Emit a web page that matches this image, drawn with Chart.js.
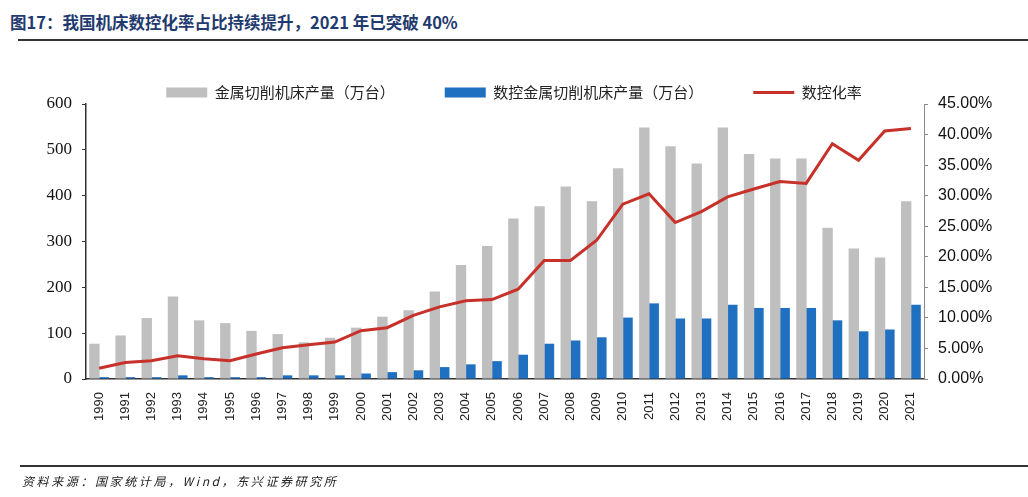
<!DOCTYPE html>
<html>
<head>
<meta charset="utf-8">
<script src="https://cdn.jsdelivr.net/npm/chart.js@4"></script>
<style>
  body { margin: 0; width: 1028px; height: 497px; background: #fff; position: relative; overflow: hidden; font-family: "Noto Sans CJK SC", sans-serif; }
  #title { position: absolute; left: 10px; top: 10px; font-size: 16.5px; font-weight: bold; color: #1f3a6e; white-space: nowrap; }
  #rule1 { position: absolute; left: 18px; right: 0; top: 39px; height: 2px; background: #333; }
  #rule2 { position: absolute; left: 20px; right: 0; top: 465px; height: 2px; background: #333; }
  #src { position: absolute; left: 22px; top: 472px; font-size: 12px; font-style: italic; letter-spacing: 2.6px; color: #222; white-space: nowrap; }
  #box { position: absolute; left: 0; top: 0; width: 1028px; height: 497px; }
</style>
</head>
<body>
<div id="title">图17：我国机床数控化率占比持续提升，2021 年已突破 40%</div>
<div id="rule1"></div>
<div id="box"><canvas id="cncChart"></canvas></div>
<div id="rule2"></div>
<div id="src">资料来源：国家统计局，Wind，东兴证券研究所</div>
<script>
const years = ["1990", "1991", "1992", "1993", "1994", "1995", "1996", "1997", "1998", "1999",
  "2000", "2001", "2002", "2003", "2004", "2005", "2006", "2007", "2008", "2009",
  "2010", "2011", "2012", "2013", "2014", "2015", "2016", "2017", "2018", "2019", "2020", "2021"];
// 金属切削机床产量（万台）
const production = [77, 95, 133, 180, 128, 122, 105, 98, 80, 90, 112, 136, 150, 191, 249, 290,
  350, 377, 420, 388, 460, 549, 508, 470, 549, 491, 481, 481, 330, 285, 265, 388];
// 数控金属切削机床产量（万台）
const cncProduction = [4, 4, 4, 8, 4, 4, 4, 8, 8, 8, 12, 15, 19, 26, 32, 39,
  53, 77, 84, 91, 134, 165, 132, 132, 162, 155, 155, 155, 128, 104, 108, 162];
// 数控化率 (%)
const cncRate = [1.75, 2.7, 3.0, 3.8, 3.3, 3.0, 4.1, 5.1, 5.6, 6.05, 7.9, 8.4, 10.4, 11.8, 12.8, 13.0,
  14.7, 19.4, 19.4, 22.7, 28.6, 30.3, 25.6, 27.4, 29.8, 31.1, 32.3, 32.0, 38.5, 35.8, 40.6, 41.0];

const legendHeight = {
  id: "legendHeight",
  beforeInit(chart) {
    const fit = chart.legend.fit;
    chart.legend.fit = function () {
      fit.bind(chart.legend)();
      this.height = 69;
    };
  }
};

const ctx = document.getElementById("cncChart").getContext("2d");
const cncChart = new Chart(ctx, {
  type: "bar",
  data: {
    labels: years,
    datasets: [
      {
        label: "金属切削机床产量（万台）",
        data: production,
        backgroundColor: "#bfbfbf",
        borderWidth: 0,
        pointStyle: "rect",
        yAxisID: "y",
        order: 1,
      },
      {
        label: "数控金属切削机床产量（万台）",
        data: cncProduction,
        backgroundColor: "#1f70c1",
        borderWidth: 0,
        pointStyle: "rect",
        yAxisID: "y",
        order: 1,
      },
      {
        type: "line",
        label: "数控化率",
        data: cncRate,
        borderColor: "#c8302a",
        backgroundColor: "#c8302a",
        borderWidth: 3,
        pointRadius: 0,
        pointStyle: "line",
        tension: 0,
        yAxisID: "y1",
        order: 0,
      },
    ],
  },
  options: {
    responsive: true,
    maintainAspectRatio: false,
    animation: false,
    categoryPercentage: 0.72,
    barPercentage: 1.1,
    layout: { padding: { left: 20, right: 20, top: 35, bottom: 32 } },
    plugins: {
      tooltip: { enabled: false },
      legend: {
        position: "top",
        labels: {
          usePointStyle: true,
          pointStyleWidth: 41,
          boxHeight: 10,
          padding: 50,
          color: "#222",
          font: { family: "'Noto Sans CJK SC', sans-serif", size: 15 },
          sort: (a, b) => a.datasetIndex - b.datasetIndex,
        },
      },
    },
    scales: {
      x: {
        grid: { display: false },
        border: { color: "#333", width: 1.5 },
        ticks: {
          minRotation: 90,
          maxRotation: 90,
          padding: 5,
          color: "#222",
          font: { family: "'Liberation Sans', Arial, sans-serif", size: 13 },
        },
        afterFit(scale) { scale.height = 86; },
      },
      y: {
        position: "left",
        min: 0,
        max: 600,
        ticks: {
          stepSize: 100,
          padding: 10,
          color: "#111",
          font: { family: "'Liberation Serif', 'Times New Roman', serif", size: 17 },
        },
        grid: { drawOnChartArea: false, drawTicks: true, tickLength: 4, color: "#333" },
        border: { color: "#333", width: 1.5 },
        afterFit(scale) { scale.width = 66; },
      },
      y1: {
        position: "right",
        min: 0,
        max: 45,
        ticks: {
          stepSize: 5,
          padding: 10,
          color: "#111",
          font: { family: "'Liberation Sans', Arial, sans-serif", size: 16 },
          callback: (v) => v.toFixed(2) + "%",
        },
        grid: { drawOnChartArea: false, drawTicks: true, tickLength: 4, color: "#888" },
        border: { color: "#888", width: 1 },
        afterFit(scale) { scale.width = 84; },
      },
    },
  },
  plugins: [legendHeight],
});
</script>
</body>
</html>
